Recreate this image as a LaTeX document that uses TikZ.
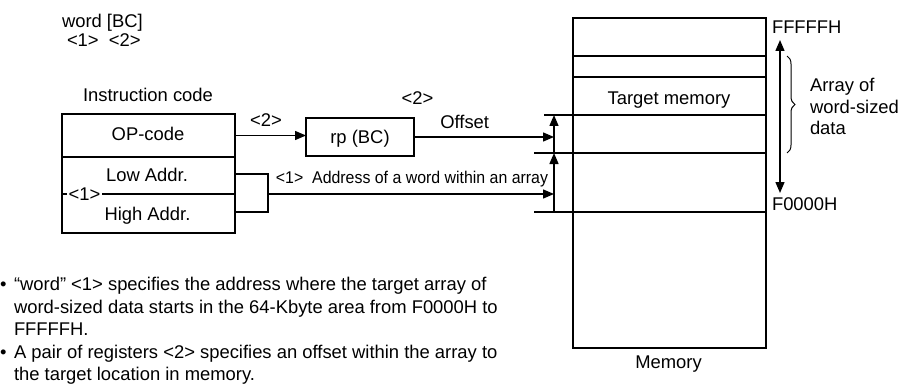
\documentclass[tikz,border=0pt]{standalone}
\usepackage{fontspec}
\usepackage{graphicx}
\setmainfont{Liberation Sans}
\usetikzlibrary{arrows.meta,decorations.pathreplacing}
\begin{document}
\begin{tikzpicture}[x=1pt,y=-1pt,
  every node/.style={inner sep=0pt, outer sep=0pt, font=\fontsize{18.4}{22.3}\selectfont},
  box/.style={draw, line width=1.4pt},
  txt/.style={anchor=base},
  txtl/.style={anchor=base west},
  arr/.style={line width=1.4pt, -{Triangle[length=11pt,width=9pt]}},
  dbl/.style={line width=1.4pt, {Triangle[length=11pt,width=9pt]}-{Triangle[length=11pt,width=9pt]}},
  ln/.style={line width=1.4pt}]
\useasboundingbox (0,0) rectangle (904,385);

% top-left syntax
\node[txtl] (syn) at (62,27.7) {word [BC]};
\node[txtl] (synnum) at (67,46.5) {<1>\ \ <2>};

% instruction code
\node[txt] (ic) at (148,101.7) {Instruction code};
\node[box, minimum width=173, minimum height=43] (op) at (148.5,135.5) {};
\node[txt] (optxt) at (148,140.7) {OP-code};
\node[box, minimum width=173, minimum height=76] (addr) at (148.5,195) {};
\node[txt] (lowtxt) at (147,181.7) {Low Addr.};
\node[txt] (hightxt) at (147.5,220) {High Addr.};
\coordinate (div) at (0,194);
\draw[ln] (addr.west |- div) -- (addr.east |- div);
\node[txt, fill=white, inner xsep=1.5pt] (one) at (84.5,200) {<1>};

% register box
\node[box, minimum width=108, minimum height=38] (rp) at (360,137) {};
\node[txt] (rptxt) at (360,143.3) {rp (BC)};

% memory
\node[box, line width=1.6pt, minimum width=193, minimum height=330] (mem) at (669.5,183) {};
\coordinate (r1) at (573,56);
\coordinate (r2) at (573,77);
\coordinate (t1) at (544,115);
\coordinate (t2) at (534,153);
\coordinate (t3) at (534,212);
\draw[ln] (r1) -- (r1 -| mem.east);
\draw[ln] (r2) -- (r2 -| mem.east);
\draw[ln] (t1) -- (t1 -| mem.east);
\draw[ln] (t2) -- (t2 -| mem.east);
\draw[ln] (t3) -- (t3 -| mem.east);
\node[txt] (tm) at (669,105) {Target memory};
\node[txt] (memlbl) at (668.5,368.3) {Memory};

% vertical offset arrows
\coordinate (v1) at (554,115);
\coordinate (v2) at (554,153);
\coordinate (v3) at (554,212);
\draw[arr] (v2) -- (v1);
\draw[arr] (v3) -- (v2);

% connectors
\draw[arr] (op.east) -- (op.east -| rp.west);
\node[txt] (two1) at (266,126) {<2>};
\draw[arr] (rp.east) -- (rp.east -| v1);
\node[txt] (two2) at (417.5,105) {<2>};
\node[txt] (offs) at (464.7,128.3) {Offset};

\coordinate (lo) at (235,174);
\coordinate (hi) at (235,212);
\coordinate (bx) at (268,194);
\draw[ln] (lo) -| (bx |- hi) -- (hi);
\draw[arr] (bx) -- (bx -| v1);
\node[txt] (addrlbl) at (412,183.3) {\fontsize{17}{20}\selectfont\scalebox{0.935}[1]{<1>\ \ Address of a word within an array}};

% right side
\node[txtl] (ffff) at (772,33.3) {FFFFFH};
\node[txtl] (f000) at (772,210.7) {F0000H};
\coordinate (da1) at (780,40);
\coordinate (da2) at (780,193);
\draw[dbl] (da1) -- (da2);
\coordinate (br1) at (787,56);
\coordinate (br2) at (787,153);
\draw[line width=1pt, decorate, decoration={brace, amplitude=8pt}] (br1) -- (br2);
\node[txtl] (arr1) at (810,91.7) {Array of};
\node[txtl] (arr2) at (810,113.3) {word-sized};
\node[txtl] (arr3) at (810,135) {data};

% bullets
\node[txt] (bu1) at (3.3,290.7) {•};
\node[txtl] (b1a) at (14,290.7) {“word” <1> specifies the address where the target array of};
\node[txtl] (b1b) at (14,313.3) {word-sized data starts in the 64-Kbyte area from F0000H to};
\node[txtl] (b1c) at (14,335.5) {FFFFFH.};
\node[txt] (bu2) at (3.3,358.3) {•};
\node[txtl] (b2a) at (14,358.3) {A pair of registers <2> specifies an offset within the array to};
\node[txtl] (b2b) at (14,380) {the target location in memory.};
\end{tikzpicture}
\end{document}
